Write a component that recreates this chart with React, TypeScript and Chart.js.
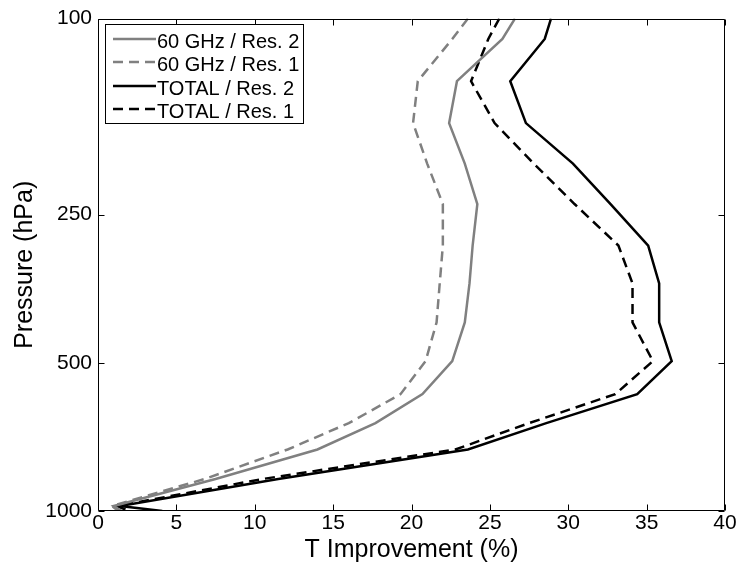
import React, { useEffect, useRef } from 'react';
import { Chart, registerables } from 'chart.js';

Chart.register(...registerables);

// Pressure levels (hPa)
const pressureLevels = [100, 110, 134, 163, 197, 238, 289, 345, 414, 496, 579, 663, 750, 861, 977, 1000];
// T improvement (%) per series
const ghz60Res2 = [26.6, 25.8, 22.9, 22.4, 23.4, 24.2, 23.9, 23.7, 23.4, 22.6, 20.7, 17.7, 14.0, 7.5, 1.0, 1.5];
const ghz60Res1 = [23.6, 22.6, 20.4, 20.1, 21.0, 22.0, 22.0, 21.8, 21.6, 20.9, 19.3, 16.0, 12.1, 6.8, 0.9, 1.3];
const totalRes2 = [28.9, 28.5, 26.3, 27.3, 30.3, 32.7, 35.1, 35.8, 35.8, 36.6, 34.4, 28.6, 23.6, 11.5, 1.4, 4.1];
const totalRes1 = [25.6, 24.9, 23.8, 25.3, 27.8, 30.4, 33.2, 34.1, 34.1, 35.4, 33.0, 27.5, 22.8, 10.5, 1.2, 2.0];
const seriesLabels = ['60 GHz / Res. 2', '60 GHz / Res. 1', 'TOTAL / Res. 2', 'TOTAL / Res. 1'];
const xTicks = [0, 5, 10, 15, 20, 25, 30, 35, 40];
const yTicks = [100, 250, 500, 1000];
const xTitle = 'T Improvement (%)';
const yTitle = 'Pressure (hPa)';

const FONT = "'Liberation Sans', Arial, Helvetica, sans-serif";

const toPoints = (xs: number[]) => xs.map((v, i) => ({ x: v, y: pressureLevels[i] }));

const framePlugin = {
  id: 'frame',
  afterDatasetsDraw(chart: any) {
    const { ctx, chartArea, scales } = chart;
    const L = Math.round(chartArea.left) + 0.5;
    const R = Math.round(chartArea.right) - 0.5;
    const T = Math.round(chartArea.top) + 0.5;
    const B = Math.round(chartArea.bottom) - 0.5;
    const tl = 6;
    ctx.save();
    ctx.strokeStyle = '#000';
    ctx.lineWidth = 1;
    ctx.setLineDash([]);
    ctx.beginPath();
    ctx.rect(L, T, R - L, B - T);
    xTicks.forEach((v) => {
      const px = Math.round(scales.x.getPixelForValue(v)) + 0.5;
      ctx.moveTo(px, B);
      ctx.lineTo(px, B - tl);
      ctx.moveTo(px, T);
      ctx.lineTo(px, T + tl);
    });
    yTicks.forEach((v) => {
      const py = Math.round(scales.y.getPixelForValue(v)) + 0.5;
      ctx.moveTo(L, py);
      ctx.lineTo(L + tl, py);
      ctx.moveTo(R, py);
      ctx.lineTo(R - tl, py);
    });
    ctx.stroke();

    // legend
    const bx = 105.5, by = 24.5, bw = 198, bh = 99;
    ctx.fillStyle = '#fff';
    ctx.fillRect(bx, by, bw, bh);
    ctx.strokeRect(bx, by, bw, bh);
    ctx.font = `20px ${FONT}`;
    ctx.textBaseline = 'alphabetic';
    ctx.textAlign = 'left';
    chart.data.datasets.forEach((ds: any, i: number) => {
      const base = 48 + i * 23.3;
      const ly = Math.round(base - 9);
      ctx.strokeStyle = ds.borderColor;
      ctx.lineWidth = ds.borderWidth;
      ctx.setLineDash(ds.borderDash || []);
      ctx.beginPath();
      ctx.moveTo(113, ly);
      ctx.lineTo(156, ly);
      ctx.stroke();
      ctx.setLineDash([]);
      ctx.fillStyle = '#000';
      ctx.fillText(ds.label, 157, base);
    });
    ctx.restore();
  },
};

export default function App() {
  const ref = useRef<HTMLCanvasElement | null>(null);
  useEffect(() => {
    if (!ref.current) return;
    const gray = '#808080';
    const chart = new Chart(ref.current, {
      type: 'line',
      data: {
        datasets: [
          { label: seriesLabels[0], data: toPoints(ghz60Res2), borderColor: gray, borderWidth: 2.5, borderDash: [] },
          { label: seriesLabels[1], data: toPoints(ghz60Res1), borderColor: gray, borderWidth: 2.5, borderDash: [10, 6] },
          { label: seriesLabels[2], data: toPoints(totalRes2), borderColor: '#000', borderWidth: 2.5, borderDash: [] },
          { label: seriesLabels[3], data: toPoints(totalRes1), borderColor: '#000', borderWidth: 2.5, borderDash: [10, 6] },
        ] as any,
      },
      options: {
        animation: false,
        responsive: false,
        maintainAspectRatio: false,
        elements: { point: { radius: 0, hoverRadius: 0 }, line: { tension: 0, fill: false } },
        layout: { padding: { top: 17, right: 15, left: 0, bottom: 0 } },
        plugins: { legend: { display: false }, tooltip: { enabled: false } },
        scales: {
          x: {
            type: 'linear',
            position: 'bottom',
            min: 0,
            max: 40,
            afterBuildTicks: (s: any) => { s.ticks = xTicks.map((v) => ({ value: v })); },
            afterFit: (s: any) => { s.height = 56; },
            grid: { display: false, drawTicks: false },
            border: { display: false },
            ticks: { color: '#000', font: { family: FONT, size: 21 }, padding: 0, maxRotation: 0, autoSkip: false },
            title: { display: true, text: xTitle, color: '#000', font: { family: FONT, size: 25 }, padding: { top: 0, bottom: 2 } },
          },
          y: {
            type: 'logarithmic',
            position: 'left',
            reverse: true,
            min: 100,
            max: 1000,
            afterBuildTicks: (s: any) => { s.ticks = yTicks.map((v) => ({ value: v })); },
            afterFit: (s: any) => { s.width = 98; },
            grid: { display: false, drawTicks: false },
            border: { display: false },
            ticks: { color: '#000', font: { family: FONT, size: 21 }, padding: 6, autoSkip: false, callback: (v: any) => String(v) },
            title: { display: true, text: yTitle, color: '#000', font: { family: FONT, size: 25 }, padding: { top: 10, bottom: 0 } },
          },
        },
      } as any,
      plugins: [framePlugin],
    });
    return () => chart.destroy();
  }, []);
  return (
    <div style={{ position: 'fixed', left: 0, top: 0, width: 740, height: 567, background: '#fff' }}>
      <canvas ref={ref} width={740} height={567} style={{ width: 740, height: 567, display: 'block' }} />
    </div>
  );
}
